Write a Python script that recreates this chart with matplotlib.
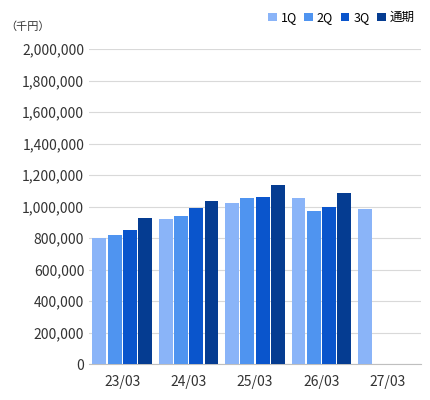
import matplotlib
matplotlib.use("Agg")
import matplotlib.pyplot as plt
import numpy as np
from matplotlib.ticker import FuncFormatter

plt.rcParams['font.family'] = ['Noto Sans CJK JP', 'DejaVu Sans']

categories = ["23/03", "24/03", "25/03", "26/03", "27/03"]
series_names = ["1Q", "2Q", "3Q", "通期"]
q1 = [800000, 920000, 1022000, 1054000, 984000]
q2 = [819000, 940000, 1054000, 971000, None]
q3 = [851000, 990000, 1060000, 997000, None]
q4 = [927000, 1035000, 1137000, 1086000, None]
colors = ["#8AB4F8", "#4F94F0", "#0A55CC", "#053C91"]

fig = plt.figure(figsize=(4.3, 4.0), dpi=100)
ax = fig.add_axes([0.207, 0.09, 0.772, 0.7875])
x = np.arange(len(categories))
w = 0.21
step = 0.23
for i, (vals, c, n) in enumerate(zip([q1, q2, q3, q4], colors, series_names)):
    xs = [xi + (i - 1.5) * step for xi, v in zip(x, vals) if v is not None]
    vs = [v for v in vals if v is not None]
    ax.bar(xs, vs, width=w, color=c, label=n, zorder=3)

ax.set_xlim(-0.5, len(categories) - 0.5)
ax.set_ylim(0, 2000000)
ax.set_yticks(np.arange(0, 2000001, 200000))
ax.yaxis.set_major_formatter(FuncFormatter(lambda v, p: f"{int(v):,}"))
ax.set_xticks(x)
ax.set_xticklabels(categories)
ax.grid(axis='y', color='#D9D9D9', linewidth=0.8, zorder=0)
for s in ['top', 'right', 'left']:
    ax.spines[s].set_visible(False)
ax.spines['bottom'].set_color('#BFBFBF')
ax.tick_params(axis='both', length=0, labelsize=10, colors='#333333')
ax.tick_params(axis='x', pad=8)
fig.text(0.012, 0.925, "（千円）", fontsize=8, color='#333333')
fig.legend(loc='upper right', bbox_to_anchor=(0.99, 1.0), ncol=4, frameon=False,
           fontsize=9, handlelength=0.7, handleheight=0.7, columnspacing=0.6, handletextpad=0.3)
fig.savefig("out.png", dpi=100)
